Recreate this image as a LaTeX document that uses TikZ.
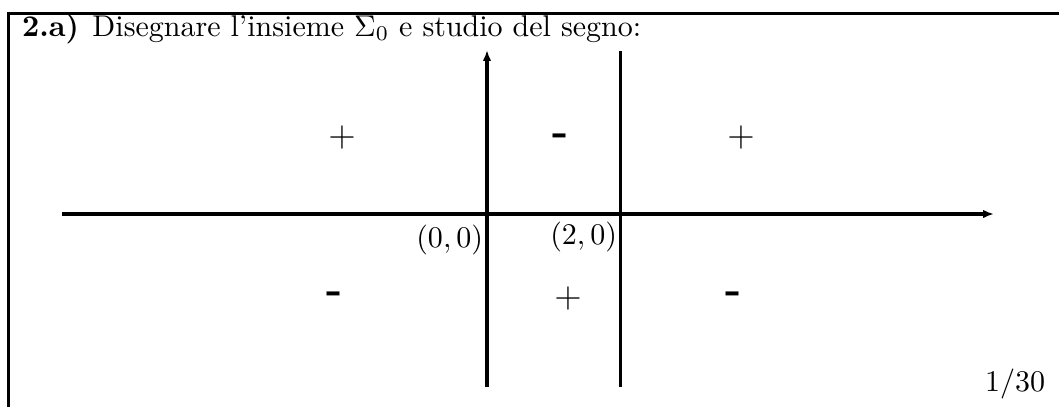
\documentclass[tikz,border=0pt]{standalone}
\usetikzlibrary{arrows.meta}
\begin{document}
\begin{tikzpicture}[x=0.33333pt,y=-0.33333pt,
  frameline/.style={line width=1pt},
  axisline/.style={line width=1.25pt},
  axisarrow/.style={axisline,-{Latex[length=3.6pt,width=2.8pt]}},
  lbl/.style={inner sep=0pt, outer sep=0pt},
  plussign/.style={inner sep=0pt, anchor=center, font=\fontsize{13}{15}\selectfont},
  minussign/.style={inner sep=0pt, anchor=base, font=\Large\bfseries}]
\useasboundingbox (0,0) rectangle (1059,407);
% frame
\coordinate (fr1) at (1059,13.5);
\coordinate (fr2) at (8.5,13.5);
\coordinate (fr3) at (8.5,407);
\draw[frameline] (fr1) -- (fr2) -- (fr3);
% title
\node[lbl, anchor=base west] (title) at (22,36)
  {\textbf{2.a)}\hspace{4.5pt}Disegnare l'insieme $\Sigma_0$ e studio del segno:};
% axes
\coordinate (xs) at (62,214);
\coordinate (xe) at (994,214);
\coordinate (ys) at (487,387);
\coordinate (ye) at (487,50);
\coordinate (ls) at (620.5,387);
\coordinate (le) at (620.5,51);
\draw[axisarrow] (xs) -- (xe);
\draw[axisarrow] (ys) -- (ye);
\draw[axisline] (ls) -- (le);
% point labels
\node[lbl, anchor=east] (o) at (483,240) {$(0,0)$};
\node[lbl, anchor=east] (p) at (617,237) {$(2,0)$};
% signs
\node[plussign] (s1) at (342,137) {$+$};
\node[minussign] (s2) at (561,145) {-};
\node[plussign] (s3) at (741,137) {$+$};
\node[minussign] (s4) at (335,303) {-};
\node[plussign] (s5) at (568,298) {$+$};
\node[minussign] (s6) at (734,303) {-};
% page number
\node[lbl, anchor=base east] (pg) at (1045,391) {$1/30$};
\end{tikzpicture}
\end{document}
